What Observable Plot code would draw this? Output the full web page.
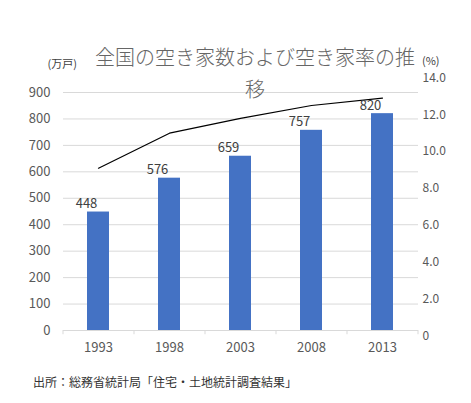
<!DOCTYPE html>
<html>
<head>
<meta charset="utf-8">
<script src="https://cdn.jsdelivr.net/npm/d3@7"></script>
<script src="https://cdn.jsdelivr.net/npm/@observablehq/plot@0.6"></script>
<style>
  body { margin: 0; background: #fff; font-family: "Noto Sans CJK JP", "Noto Sans", sans-serif; }
  #chart { width: 471px; }
  #caption { font-size: 12px; color: #333; margin: 3px 0 0 33px; }
</style>
</head>
<body>
<div id="chart"></div>
<div id="caption">出所：総務省統計局「住宅・土地統計調査結果」</div>
<script>
// datos
const years = ['1993', '1998', '2003', '2008', '2013']
const akiyaCount = [448, 576, 659, 757, 820] // 万戸
const akiyaRate = [9.1, 11.0, 11.8, 12.5, 12.9] // %
const leftTicks = [0, 100, 200, 300, 400, 500, 600, 700, 800, 900]
const rightTicks = [0, 2, 4, 6, 8, 10, 12, 14]
const titleLine1 = '全国の空き家数および空き家率の推'
const titleLine2 = '移'

// eje derecho (%) llevado a unidades del eje izquierdo
const toLeft = v => v * 69.8 - 21.6
const fromLeft = l => (l + 21.6) / 69.8

const data = years.map((y, i) => ({ year: y, count: akiyaCount[i], rate: akiyaRate[i] }))
const last = [years[years.length - 1]]

const gray = '#595959'

const chart = Plot.plot({
  width: 471,
  height: 370,
  marginLeft: 63,
  marginRight: 53,
  marginTop: 92,
  marginBottom: 40,
  style: { fontFamily: '"Noto Sans CJK JP", "Noto Sans", sans-serif', background: '#fff' },
  x: { type: 'band', domain: years, paddingInner: 0.69, paddingOuter: 0.345, label: null },
  y: { domain: [0, 900], label: null },
  marks: [
    Plot.gridY(leftTicks.filter(d => d > 0), { stroke: '#d9d9d9', strokeOpacity: 1 }),
    Plot.barY(data, { x: 'year', y: 'count', fill: '#4472C4' }),
    Plot.ruleY([0], { stroke: '#d9d9d9' }),
    Plot.ruleX(years, { x: d => d, y1: 0, y2: -16, dx: -35.5, stroke: '#d9d9d9' }),
    Plot.ruleX(last, { x: d => d, y1: 0, y2: -16, dx: 35.5, stroke: '#d9d9d9' }),
    Plot.line(data, { x: 'year', y: d => toLeft(d.rate), stroke: '#000', strokeWidth: 1.2 }),
    Plot.text(data, { x: 'year', y: 'count', text: d => String(d.count), dx: -12, dy: -8, fontSize: 13, fill: '#404040' }),
    Plot.axisY(leftTicks, { anchor: 'left', tickSize: 0, tickPadding: 13, fontSize: 13, fill: gray, label: null }),
    Plot.axisY(rightTicks.map(toLeft), {
      anchor: 'right', tickSize: 0, tickPadding: 4, fontSize: 12, fill: gray, label: null,
      tickFormat: l => { const v = Math.round(fromLeft(l)); return v === 0 ? '0' : v.toFixed(1) },
    }),
    Plot.axisX({ tickSize: 0, tickPadding: 12, fontSize: 13, fill: gray, label: null }),
    // título en dos líneas
    Plot.text([titleLine1], { frameAnchor: 'top', dx: 14, dy: -42, text: d => d, fontSize: 20, fontWeight: 300, fill: '#666' }),
    Plot.text([titleLine2], { frameAnchor: 'top', dx: 14, dy: -10, text: d => d, fontSize: 20, fontWeight: 300, fill: '#666' }),
    Plot.text(['(万戸)'], { frameAnchor: 'top-left', dx: -16, dy: -32, text: d => d, fontSize: 11, fill: '#404040' }),
    Plot.text(['(%)'], { frameAnchor: 'top-right', dx: 21, dy: -35, text: d => d, fontSize: 11, fill: '#404040' }),
  ],
})

d3.select('#chart').append(() => chart)
</script>
</body>
</html>
